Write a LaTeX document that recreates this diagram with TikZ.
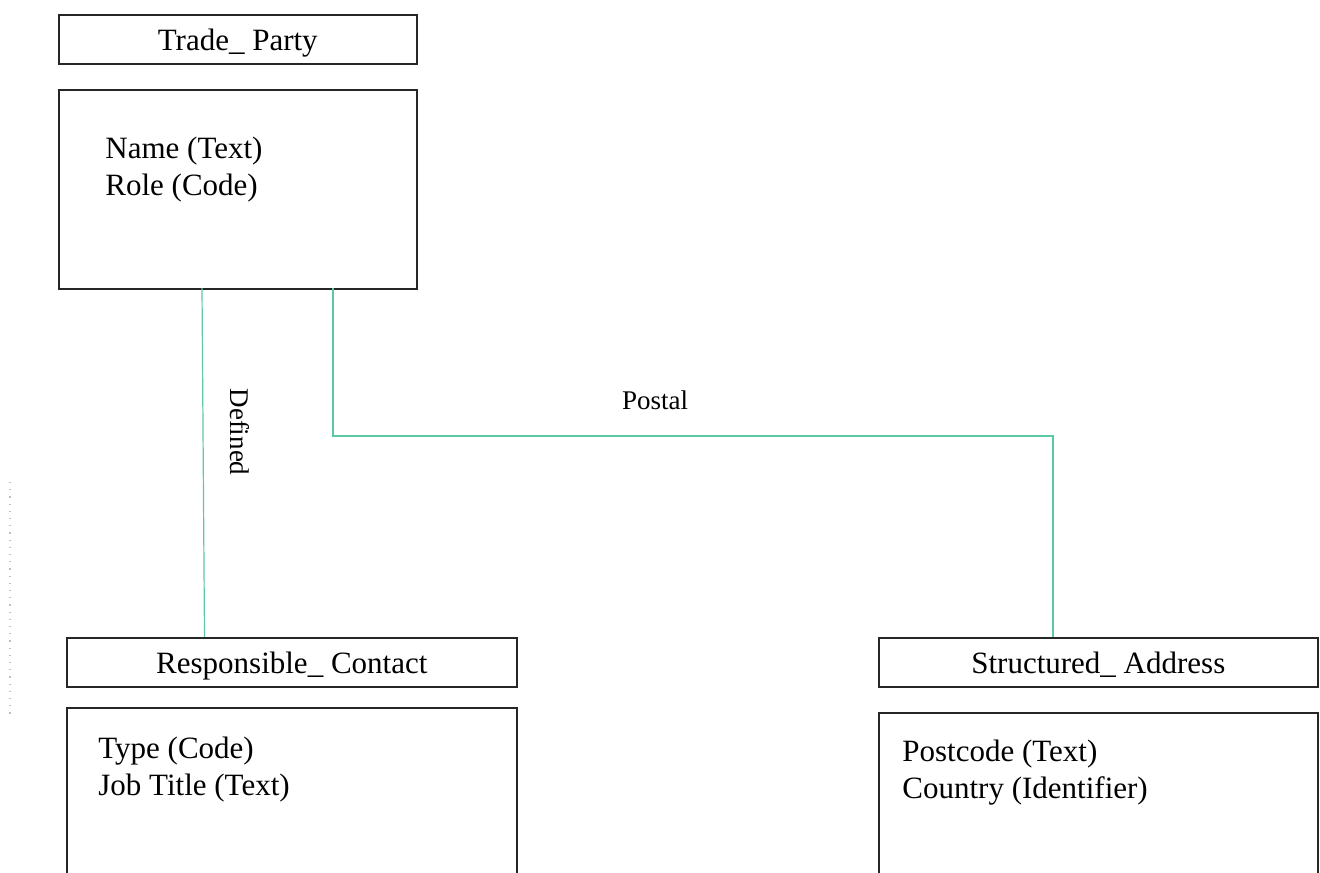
\documentclass[tikz,border=0pt]{standalone}
\usepackage{fontspec}
\setmainfont{Liberation Serif}
\usetikzlibrary{calc}
\definecolor{linkgreen}{RGB}{92,200,165}
\tikzset{
  box/.style={draw=black!85, line width=0.8pt, rectangle, inner sep=0pt, anchor=north west},
  title/.style={font=\fontsize{15.5}{18.5}\selectfont, anchor=base, inner sep=0pt},
  attrs/.style={font=\fontsize{15.5}{18.5}\selectfont, align=left, anchor=base west, inner sep=0pt},
  link/.style={draw=linkgreen, line width=0.6pt},
  lbl/.style={font=\fontsize{13.5}{16}\selectfont, inner sep=0pt}
}
\begin{document}
\begin{tikzpicture}[x=0.5pt,y=-0.5pt]
\useasboundingbox (0,0) rectangle (1320,872);
\clip (0,0) rectangle (1320,872);

% Trade_Party
\node[box, minimum width=179pt, minimum height=24.5pt] (tpH) at (58,14) {};
\node[title] (tpT) at ($(tpH.north)+(0,37)$) {Trade\_ Party};
\node[box, minimum width=179pt, minimum height=99.5pt] (tpB) at (58,89) {};
\node[attrs] (tpA) at (105,195) {Name (Text)\\Role (Code)};

% Responsible_Contact
\node[box, minimum width=225pt, minimum height=24.5pt] (rcH) at (66,637) {};
\node[title] (rcT) at ($(rcH.north)+(0,36)$) {Responsible\_ Contact};
\node[box, minimum width=225pt, minimum height=120pt] (rcB) at (66,707) {};
\node[attrs] (rcA) at (98,795) {Type (Code)\\Job Title (Text)};

% Structured_Address
\node[box, minimum width=219.5pt, minimum height=24.5pt] (saH) at (878,637) {};
\node[title] (saT) at ($(saH.north)+(0,36)$) {Structured\_ Address};
\node[box, minimum width=219.5pt, minimum height=120pt] (saB) at (878,712) {};
\node[attrs] (saA) at (902,798) {Postcode (Text)\\Country (Identifier)};

% Connectors
\coordinate (dTop) at (202,288);
\coordinate (dBot) at (204.5,637);
\draw[link] (dTop) -- (dBot);
\node[lbl, rotate=-90] (defL) at (240,432) {Defined};

\coordinate (pTop) at (333,288);
\coordinate (pBend1) at (333,436);
\coordinate (pBend2) at (1053,436);
\coordinate (pBot) at (1053,637);
\draw[link] (pTop) -- (pBend1) -- (pBend2) -- (pBot);
\node[lbl] (postL) at (655,400) {Postal};

% faint speckled trace at the left margin
\coordinate (sTop) at (10,482);
\coordinate (sBot) at (10,718);
\draw[black!25, line width=0.6pt, dash pattern=on 0.6pt off 3pt] (sTop) -- (sBot);
\end{tikzpicture}
\end{document}
